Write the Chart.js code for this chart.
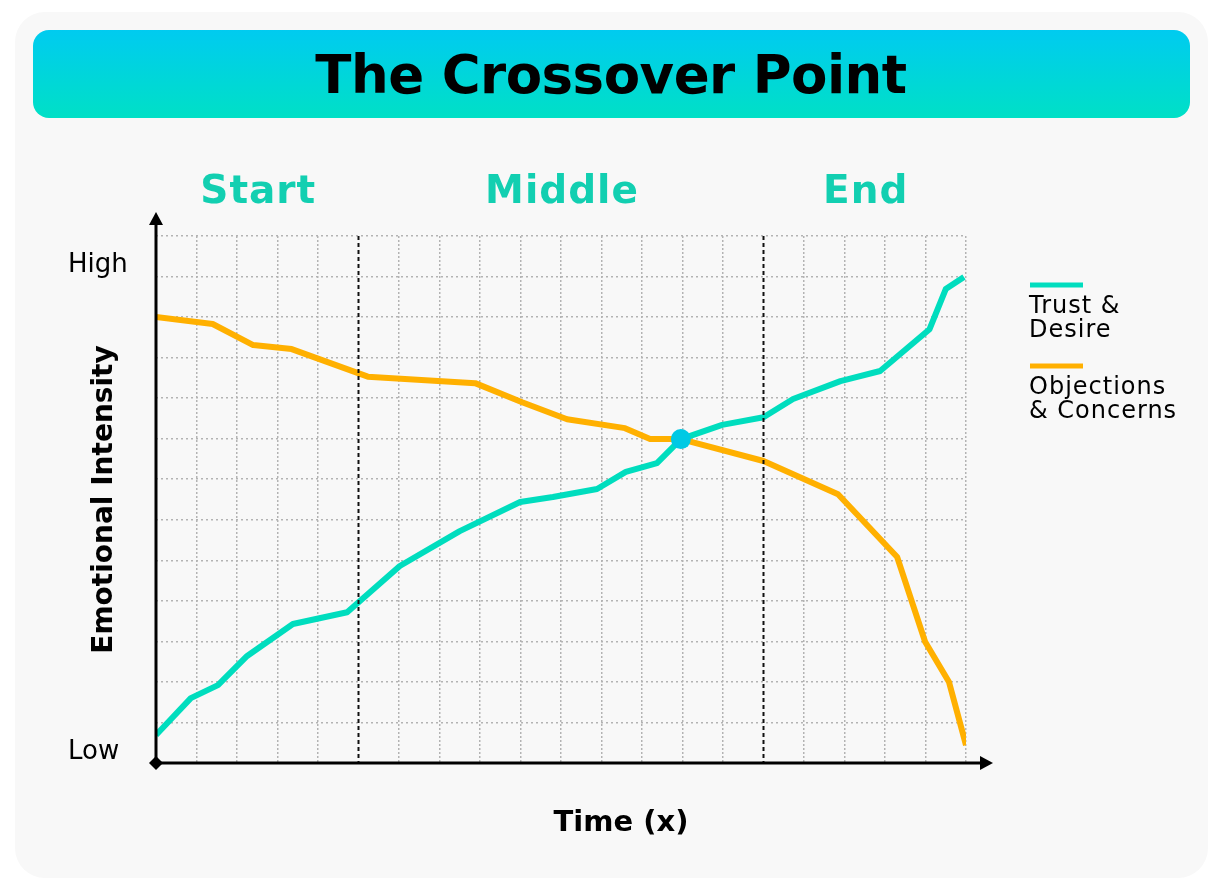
<!DOCTYPE html>
<html>
<head>
<meta charset="utf-8">
<script src="https://cdn.jsdelivr.net/npm/chart.js@4.4.1/dist/chart.umd.min.js"></script>
<style>
  html, body { margin: 0; padding: 0; background: #ffffff; }
  #wrap { width: 1224px; height: 891px; position: relative; }
</style>
</head>
<body>
<div id="wrap"><canvas id="grafica" width="1224" height="891"></canvas></div>
<script>
// data (x = time units 0..20, y = intensity 0..13)
const sections = ['Start', 'Middle', 'End'];
const sectionBounds = [0, 5, 15, 20];
const yTickLabels = { 0: 'Low', 12: 'High' };
const seriesNames = [['Trust &', 'Desire'], ['Objections', '& Concerns']];

const trustTime  = [0, 0.86, 1.53, 2.25, 3.38, 4.72, 6.02, 7.5, 8.99, 9.8, 10.89, 11.6, 12.37, 12.96, 13.98, 15, 15.73, 16.9, 17.88, 19.1, 19.5, 19.95];
const trustLevel = [0.69, 1.6, 1.92, 2.64, 3.43, 3.72, 4.86, 5.72, 6.44, 6.56, 6.76, 7.18, 7.4, 7.99, 8.34, 8.53, 8.98, 9.42, 9.67, 10.7, 11.69, 11.99];

const concernTime  = [0, 1.4, 2.4, 3.35, 5.23, 7.88, 9.04, 10.15, 11.58, 12.2, 12.96, 15, 16.84, 18.3, 18.99, 19.58, 20];
const concernLevel = [11.0, 10.83, 10.31, 10.21, 9.53, 9.37, 8.9, 8.48, 8.26, 7.99, 7.99, 7.45, 6.63, 5.08, 2.99, 2.0, 0.44];

const crossTime = [12.96];
const crossLevel = [7.99];

const tealColor = '#00DDBE';
const orangeColor = '#FFB000';
const sectionColor = '#12CFB1';
const boldFont = '"DejaVu Sans", "Noto Sans", sans-serif';

function aPuntos(xs, ys) {
  return xs.map((x, i) => ({ x: x, y: ys[i] }));
}

function roundRect(ctx, x, y, w, h, r) {
  ctx.beginPath();
  ctx.moveTo(x + r, y);
  ctx.arcTo(x + w, y, x + w, y + h, r);
  ctx.arcTo(x + w, y + h, x, y + h, r);
  ctx.arcTo(x, y + h, x, y, r);
  ctx.arcTo(x, y, x + w, y, r);
  ctx.closePath();
}

// background card, banner, title, section names
const fondo = {
  id: 'fondo',
  beforeDraw(chart) {
    const ctx = chart.ctx;
    ctx.save();
    ctx.fillStyle = '#F8F8F8';
    roundRect(ctx, 15, 12, 1193, 866, 30);
    ctx.fill();

    const grad = ctx.createLinearGradient(0, 30, 0, 118);
    grad.addColorStop(0, '#00CBF0');
    grad.addColorStop(1, '#00E0C6');
    ctx.fillStyle = grad;
    roundRect(ctx, 33, 30, 1157, 88, 16);
    ctx.fill();

    ctx.fillStyle = '#000';
    ctx.font = 'bold 53px ' + boldFont;
    ctx.letterSpacing = '-0.5px';
    ctx.textAlign = 'center';
    ctx.textBaseline = 'alphabetic';
    ctx.fillText('The Crossover Point', 611, 93);

    const xs = chart.scales.x;
    ctx.fillStyle = sectionColor;
    ctx.font = 'bold 39px ' + boldFont;
    ctx.letterSpacing = '1px';
    sections.forEach((s, i) => {
      const cx = (xs.getPixelForValue(sectionBounds[i]) + xs.getPixelForValue(sectionBounds[i + 1])) / 2;
      ctx.fillText(s, cx + 1, 203);
    });
    ctx.letterSpacing = '0px';
    ctx.restore();
  }
};

// section dividers, arrows, x title, legend
const extras = {
  id: 'extras',
  afterDatasetsDraw(chart) {
    const ctx = chart.ctx;
    const xs = chart.scales.x, ys = chart.scales.y;
    const top = ys.getPixelForValue(ys.max);
    const x0 = xs.getPixelForValue(0), y0 = ys.getPixelForValue(0);
    const xEnd = xs.getPixelForValue(xs.max);
    ctx.save();

    ctx.strokeStyle = '#111';
    ctx.lineWidth = 2;
    ctx.setLineDash([4, 3]);
    [sectionBounds[1], sectionBounds[2]].forEach(v => {
      const px = xs.getPixelForValue(v);
      ctx.beginPath();
      ctx.moveTo(px, top);
      ctx.lineTo(px, y0);
      ctx.stroke();
    });
    ctx.setLineDash([]);

    // axes with arrows
    ctx.lineWidth = 3;
    ctx.strokeStyle = '#000';
    ctx.fillStyle = '#000';
    ctx.beginPath();
    ctx.moveTo(x0, y0);
    ctx.lineTo(xEnd + 16, y0);
    ctx.moveTo(x0, y0);
    ctx.lineTo(x0, top - 14);
    ctx.stroke();

    ctx.beginPath();
    ctx.moveTo(xEnd + 27, y0);
    ctx.lineTo(xEnd + 14, y0 - 7);
    ctx.lineTo(xEnd + 14, y0 + 7);
    ctx.closePath();
    ctx.fill();

    ctx.beginPath();
    ctx.moveTo(x0, top - 24);
    ctx.lineTo(x0 - 7, top - 11);
    ctx.lineTo(x0 + 7, top - 11);
    ctx.closePath();
    ctx.fill();

    ctx.beginPath();
    ctx.moveTo(x0, y0 - 7);
    ctx.lineTo(x0 + 7, y0);
    ctx.lineTo(x0, y0 + 7);
    ctx.lineTo(x0 - 7, y0);
    ctx.closePath();
    ctx.fill();

    // x axis title
    ctx.font = 'bold 29px ' + boldFont;
    ctx.textAlign = 'center';
    ctx.textBaseline = 'middle';
    ctx.fillText('Time (x)', 621, 823);

    // legend
    const colores = [tealColor, orangeColor];
    const legendY = [285, 366];
    ctx.font = '24px "DejaVu Sans", sans-serif';
    ctx.letterSpacing = '1px';
    ctx.textAlign = 'left';
    colores.forEach((c, i) => {
      ctx.strokeStyle = c;
      ctx.lineWidth = 5;
      ctx.beginPath();
      ctx.moveTo(1030, legendY[i]);
      ctx.lineTo(1083, legendY[i]);
      ctx.stroke();
      ctx.fillStyle = '#000';
      seriesNames[i].forEach((t, j) => {
        ctx.fillText(t, 1029, legendY[i] + 22 + j * 24);
      });
    });
    ctx.letterSpacing = '0px';
    ctx.restore();
  }
};

const gridColor = ctx => {
  const v = ctx.tick && ctx.tick.value;
  if (v === 0) return 'rgba(0,0,0,0)';
  return '#B3B3B3';
};
const xGridColor = ctx => {
  const v = ctx.tick && ctx.tick.value;
  if (v === 0 || v === sectionBounds[1] || v === sectionBounds[2]) return 'rgba(0,0,0,0)';
  return '#B3B3B3';
};

const data = {
  datasets: [
    {
      label: 'Trust & Desire',
      data: aPuntos(trustTime, trustLevel),
      borderColor: tealColor,
      borderWidth: 6,
      pointRadius: 0,
      tension: 0,
      borderJoinStyle: 'round',
      order: 2
    },
    {
      label: 'Objections & Concerns',
      data: aPuntos(concernTime, concernLevel),
      borderColor: orangeColor,
      borderWidth: 6,
      pointRadius: 0,
      tension: 0,
      borderJoinStyle: 'round',
      order: 3
    },
    {
      label: 'Crossover',
      data: aPuntos(crossTime, crossLevel),
      showLine: false,
      pointRadius: 10,
      pointBackgroundColor: '#00C9E4',
      pointBorderWidth: 0,
      order: 1
    }
  ]
};

const config = {
  type: 'line',
  data: data,
  options: {
    responsive: false,
    animation: false,
    layout: { padding: { top: 236, right: 258, left: 68, bottom: 0 } },
    plugins: {
      legend: { display: false },
      tooltip: { enabled: false },
      title: { display: false }
    },
    scales: {
      x: {
        type: 'linear',
        min: 0,
        max: 20,
        ticks: { display: false, stepSize: 1 },
        grid: { color: xGridColor, lineWidth: 1.5, drawTicks: false },
        border: { display: false, dash: [2, 2] },
        afterFit: scale => { scale.height = 128; }
      },
      y: {
        type: 'linear',
        min: 0,
        max: 13,
        ticks: {
          stepSize: 1,
          padding: 24,
          crossAlign: 'far',
          labelOffset: -11,
          color: '#000',
          font: { family: '"DejaVu Sans", sans-serif', size: 26 },
          callback: v => yTickLabels[v] || ''
        },
        grid: { color: gridColor, lineWidth: 1.5, drawTicks: false },
        border: { display: false, dash: [2, 3] },
        title: {
          display: true,
          text: 'Emotional Intensity',
          color: '#000',
          font: { family: boldFont, size: 28, weight: 'bold' },
          padding: { top: 20, bottom: 0 }
        },
        afterFit: scale => { scale.width = 88; }
      }
    }
  },
  plugins: [fondo, extras]
};

const grafica = new Chart(document.getElementById('grafica'), config);
</script>
</body>
</html>
